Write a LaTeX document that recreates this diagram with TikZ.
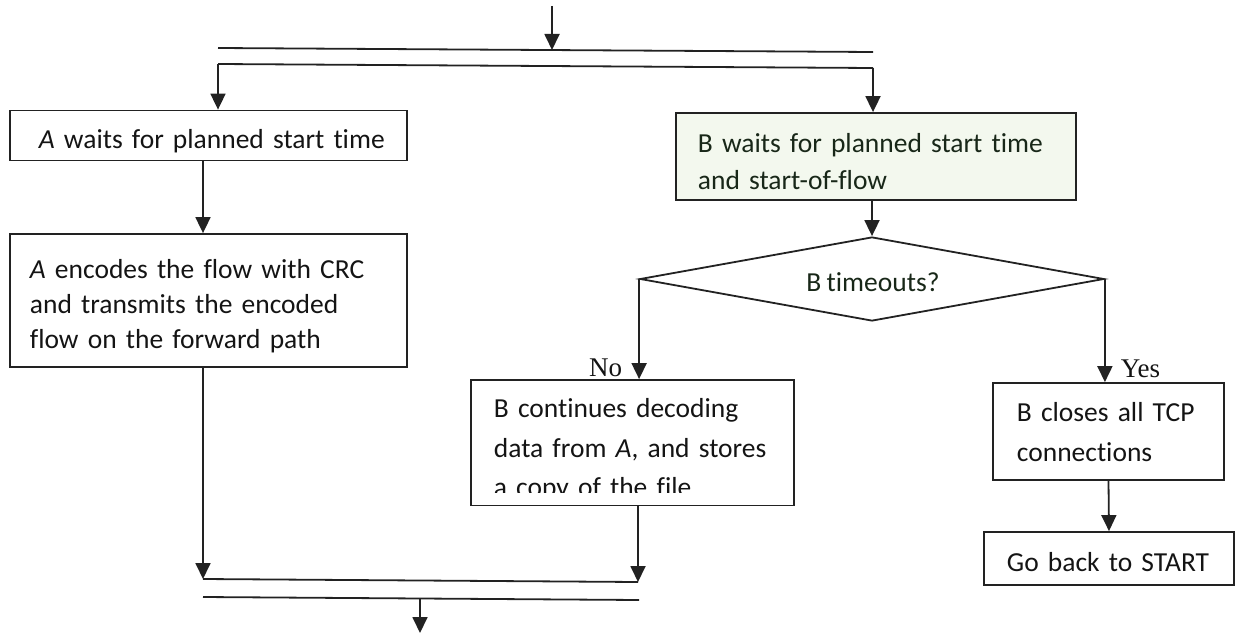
\documentclass[tikz,border=0pt]{standalone}
\usepackage{fontspec}
\setmainfont{Carlito}[Ligatures=NoCommon, WordSpace=0.85]
\newfontfamily\labelfont{Liberation Serif}
\usetikzlibrary{arrows.meta,shapes.geometric}
\definecolor{ink}{HTML}{222222}
\definecolor{txt}{HTML}{141414}
\definecolor{bgreen}{HTML}{F3F8EE}
\definecolor{gtxt}{HTML}{182718}
\newcommand{\who}[1]{{\itshape #1}}
\begin{document}
\begin{tikzpicture}[x=1pt,y=-1pt,
  color=ink, line width=1.8pt,
  arr/.style={-{Triangle[length=16pt,width=15pt]}},
  box/.style={draw=ink, rectangle, inner sep=0pt},
  boxtext/.style={anchor=west, align=left, inner sep=0pt, text=txt, text width=380pt},
  yn/.style={text=txt, font=\labelfont\fontsize{27}{30}\selectfont, inner sep=0pt}
]
\useasboundingbox (0,0) rectangle (1236,634);

% process boxes
\node[box, minimum width=397pt, minimum height=50pt]  (A1) at (208.5,135.5) {};
\node[box, minimum width=397pt, minimum height=133pt] (A2) at (208.5,300.5) {};
\node[box, fill=bgreen, minimum width=400pt, minimum height=87pt] (B1) at (876,156.5) {};
\node[draw=ink, diamond, minimum width=464pt, minimum height=84pt, inner sep=0pt] (D) at (872,279) {};
\node[box, minimum width=323pt, minimum height=125pt] (B2) at (632.5,442.5) {};
\node[box, minimum width=231pt, minimum height=97pt]  (B3) at (1108.5,431.5) {};
\node[box, minimum width=250pt, minimum height=53pt]  (B4) at (1109,558.5) {};

% box texts
\node[boxtext, font=\fontsize{27.5}{35}\selectfont] (A1t) at (38,141)
  {\who{A} waits for planned start time};
\node[boxtext, font=\fontsize{27.5}{35}\selectfont] (A2t) at (29,306.5)
  {\who{A} encodes the flow with CRC\\and transmits the encoded\\flow on the forward path};
\node[boxtext, text=gtxt, font=\fontsize{27.5}{37}\selectfont] (B1t) at (697,162)
  {B waits for planned start time\\and start-of-flow};
\node[boxtext, anchor=center, align=center, text width=, text=gtxt, font=\fontsize{27.5}{33}\selectfont]
  (Dt) at (873,282.5) {B timeouts?};
\node[boxtext, font=\fontsize{27.5}{39.5}\selectfont] (B2t) at (493,450)
  {B continues decoding\\data from \who{A}, and stores\\a copy of the file};
% the text frame of this box cuts off the last line
\fill[white] ([xshift=1.5pt,yshift=13pt]B2.south west) rectangle ([xshift=-1.5pt,yshift=1pt]B2.south east);
\node[boxtext, font=\fontsize{27.5}{40}\selectfont] (B3t) at (1016,432.5)
  {B closes all TCP\\connections};
\node[boxtext, font=\fontsize{27.5}{35}\selectfont] (B4t) at (1006,562)
  {Go back to START};

% branch labels
\node[yn, anchor=base east] (no) at (623,376) {No};
\node[yn, anchor=base west] (yes) at (1120,377) {Yes};

% fork bars and merge bars
\coordinate (top) at (552,6);
\coordinate (topin) at (552,50);
\coordinate (s1L) at (218,48);  \coordinate (s1R) at (873,52);
\coordinate (s2L) at (218,64);  \coordinate (s2R) at (873,68);
\coordinate (j1L) at (203,579); \coordinate (j1R) at (638,582);
\coordinate (j2L) at (203,597); \coordinate (j2R) at (639,600);
\coordinate (outS) at (420,598.5);
\coordinate (outE) at (420,633);

\draw (s1L) -- (s1R);
\draw (s2L) -- (s2R);
\draw (j1L) -- (j1R);
\draw (j2L) -- (j2R);

% connectors
\draw[arr] (top) -- (topin);
\draw[arr] (s2L) -- (s2L |- A1.north);
\draw[arr] (s2R) -- (s2R |- B1.north);
\draw[arr] (A1.south -| j1L) -- (A2.north -| j1L);
\draw[arr] (D.north |- B1.south) -- (D.north);
\draw[arr] (D.west) -- (D.west |- B2.north);
\draw[arr] (D.east) -- (D.east |- B3.north);
\draw[arr] (B3.south) -- (B4.north);
\draw[arr] (A2.south -| j1L) -- (j1L);
\draw[arr] (B2.south -| j1R) -- (j1R);
\draw[arr] (outS) -- (outE);
\end{tikzpicture}
\end{document}
